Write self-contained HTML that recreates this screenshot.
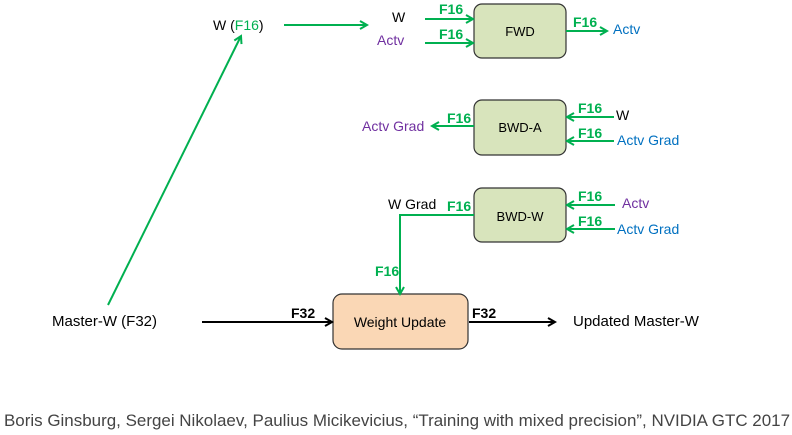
<!DOCTYPE html>
<html><head><style>
body{margin:0;background:#fff;}
svg{display:block;font-family:"Liberation Sans",sans-serif;}
</style></head><body>
<svg width="792" height="435" viewBox="0 0 792 435" xmlns="http://www.w3.org/2000/svg">
<defs>
<marker id="g" markerWidth="10" markerHeight="10" refX="8" refY="5" orient="auto" markerUnits="userSpaceOnUse"><path d="M1,1 L8,5 L1,9" fill="none" stroke="#00b050" stroke-width="2"/></marker>
<marker id="k" markerWidth="10" markerHeight="10" refX="8" refY="5" orient="auto" markerUnits="userSpaceOnUse"><path d="M1,1 L8,5 L1,9" fill="none" stroke="#000" stroke-width="2"/></marker>
</defs>
<g fill="#d8e4bc" stroke="#333" stroke-width="1.2">
<rect x="474" y="4" width="92" height="54" rx="8"/>
<rect x="474" y="100" width="92" height="55" rx="8"/>
<rect x="474" y="188" width="92" height="54" rx="8"/>
</g>
<rect x="333" y="294" width="135" height="55" rx="9" fill="#fad7b5" stroke="#333" stroke-width="1.2"/>
<g font-size="13" text-anchor="middle" fill="#000">
<text x="520" y="36">FWD</text>
<text x="520" y="132">BWD-A</text>
<text x="520" y="221">BWD-W</text>
<text x="400" y="327" font-size="14">Weight Update</text>
</g>
<g stroke="#00b050" stroke-width="2" fill="none" marker-end="url(#g)">
<line x1="108" y1="305" x2="241" y2="36"/>
<line x1="284" y1="25" x2="367" y2="25"/>
<line x1="425" y1="19" x2="473" y2="19"/>
<line x1="425" y1="43" x2="473" y2="43"/>
<line x1="566" y1="31" x2="607" y2="31"/>
<line x1="614" y1="117" x2="567" y2="117"/>
<line x1="614" y1="141" x2="567" y2="141"/>
<line x1="474" y1="126" x2="432" y2="126"/>
<line x1="615" y1="205" x2="567" y2="205"/>
<line x1="615" y1="229" x2="567" y2="229"/>
<polyline points="474,215 400,215 400,294"/>
</g>
<g stroke="#000" stroke-width="2" marker-end="url(#k)">
<line x1="202" y1="322" x2="332" y2="322"/>
<line x1="469" y1="322" x2="555" y2="322"/>
</g>
<g font-size="14" font-weight="bold" fill="#00b050">
<text x="439" y="14">F16</text>
<text x="439" y="39">F16</text>
<text x="573" y="27">F16</text>
<text x="578" y="113">F16</text>
<text x="578" y="138">F16</text>
<text x="447" y="123">F16</text>
<text x="578" y="201">F16</text>
<text x="578" y="226">F16</text>
<text x="447" y="211">F16</text>
<text x="375" y="276">F16</text>
</g>
<g font-size="14" font-weight="bold" fill="#000">
<text x="291" y="318">F32</text>
<text x="472" y="318">F32</text>
</g>
<g font-size="14">
<text x="213" y="30" fill="#000">W (<tspan fill="#00b050">F16</tspan>)</text>
<text x="392" y="22" fill="#000">W</text>
<text x="377" y="45" fill="#7030a0">Actv</text>
<text x="613" y="34" fill="#0070c0">Actv</text>
<text x="616" y="120" fill="#000">W</text>
<text x="617" y="145" fill="#0070c0">Actv Grad</text>
<text x="362" y="131" fill="#7030a0">Actv Grad</text>
<text x="622" y="208" fill="#7030a0">Actv</text>
<text x="617" y="234" fill="#0070c0">Actv Grad</text>
<text x="388" y="209" fill="#000">W Grad</text>
<text x="52" y="326" fill="#000" font-size="15">Master-W (F32)</text>
<text x="573" y="326" fill="#000" font-size="15">Updated Master-W</text>
</g>
<text x="4" y="426" font-size="17" fill="#444" textLength="786" lengthAdjust="spacingAndGlyphs">Boris Ginsburg, Sergei Nikolaev, Paulius Micikevicius, “Training with mixed precision”, NVIDIA GTC 2017</text>
</svg>
</body></html>
